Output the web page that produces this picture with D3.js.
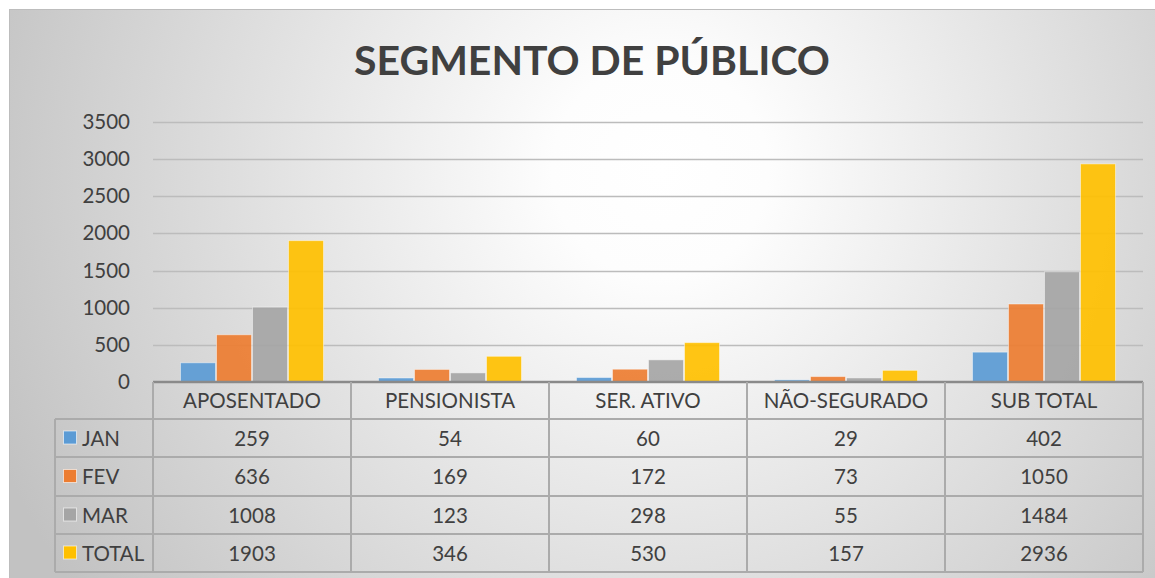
<!DOCTYPE html>
<html>
<head>
<meta charset="utf-8">
<style>
  body { margin: 0; background: #fff; }
  text { font-family: Lato, "Open Sans", sans-serif; fill: #404040; }
</style>
</head>
<body>

<script src="https://cdnjs.cloudflare.com/ajax/libs/d3/7.8.5/d3.min.js"></script>

<script>

const categories = ['APOSENTADO', 'PENSIONISTA', 'SER. ATIVO', 'NÃO-SEGURADO', 'SUB TOTAL'];
const seriesNames = ['JAN', 'FEV', 'MAR', 'TOTAL'];
const jan   = [259, 54, 60, 29, 402];
const fev   = [636, 169, 172, 73, 1050];
const mar   = [1008, 123, 298, 55, 1484];
const total = [1903, 346, 530, 157, 2936];
const yTicks = [0, 500, 1000, 1500, 2000, 2500, 3000, 3500];
const colors = ['#5B9BD5', '#ED7D31', '#A5A5A5', '#FFC000'];

const series = [jan, fev, mar, total];

const width = 1155;
const height = 578;

const svg = d3.select('body')
              .append('svg')
              .attr('width', width)
              .attr('height', height);

// background gradient like the spreadsheet chart area
const defs = svg.append('defs');
const grad = defs.append('radialGradient')
                 .attr('id', 'bg')
                 .attr('gradientUnits', 'userSpaceOnUse')
                 .attr('cx', 660).attr('cy', 170).attr('r', 720);
grad.append('stop').attr('offset', '0').attr('stop-color', '#ffffff');
grad.append('stop').attr('offset', '0.15').attr('stop-color', '#fdfdfd');
grad.append('stop').attr('offset', '1').attr('stop-color', '#c2c2c2');

svg.append('rect')
   .attr('x', 9.5).attr('y', 9.5)
   .attr('width', 1160).attr('height', 580)
   .attr('fill', 'url(#bg)')
   .attr('stroke', '#bdbdbd')
   .attr('stroke-width', 1);

// title
const title = svg.append('text')
   .attr('x', 592)
   .attr('y', 75)
   .attr('text-anchor', 'middle')
   .style('font-weight', 'bold')
   .style('font-size', '42px')
   .text('SEGMENTO DE PÚBLICO');
const tw = title.node().getComputedTextLength();
title.style('font-size', (42 * 476 / tw) + 'px');

// scales
const plotLeft = 153, plotRight = 1143;
const y = d3.scaleLinear().domain([0, 3500]).range([382, 122]);
const x0 = d3.scaleBand().domain(categories).range([plotLeft, plotRight]);
const x1 = d3.scaleBand().domain(seriesNames).range([0, x0.bandwidth()]).paddingOuter(0.75);

// gridlines
svg.append('g')
   .selectAll('line')
   .data(yTicks.filter(d => d > 0))
   .enter()
   .append('line')
     .attr('x1', plotLeft).attr('x2', plotRight)
     .attr('y1', d => Math.round(y(d)) + 0.5)
     .attr('y2', d => Math.round(y(d)) + 0.5)
     .attr('stroke', '#bcbcbc')
     .attr('stroke-width', 1.5);

// y axis labels
const yAxis = svg.append('g')
   .attr('transform', `translate(${plotLeft - 23},0)`)
   .call(d3.axisLeft(y).tickValues(yTicks).tickFormat(d3.format('d')).tickSize(0).tickPadding(0));
yAxis.select('.domain').remove();
yAxis.selectAll('text')
     .attr('fill', '#404040')
     .style('font-family', 'Lato, sans-serif')
     .style('font-size', '20.5px');

// bars
const groups = svg.append('g')
   .selectAll('g')
   .data(categories)
   .enter()
   .append('g')
     .attr('transform', d => `translate(${x0(d)},0)`);

groups.selectAll('rect')
   .data((c, ci) => seriesNames.map((s, si) => ({ s, v: series[si][ci], color: colors[si] })))
   .enter()
   .append('rect')
     .attr('x', d => x1(d.s) + 0.5)
     .attr('y', d => y(d.v))
     .attr('width', x1.bandwidth() - 1)
     .attr('height', d => y(0) - y(d.v))
     .attr('fill', d => d.color)
     .attr('fill-opacity', 0.92)
     .attr('stroke', '#ffffff')
     .attr('stroke-opacity', 0.45)
     .attr('stroke-width', 1);

// data table
const headerTop = 382;
const rowEdges = [382, 419, 457, 496, 534, 572];
const tableLeft = 55;
const lineColor = '#ababab';
const table = svg.append('g');

// horizontal lines
rowEdges.forEach((ry, i) => {
  table.append('line')
       .attr('x1', i === 0 ? plotLeft : tableLeft)
       .attr('x2', plotRight)
       .attr('y1', ry).attr('y2', ry)
       .attr('stroke', i === 0 ? '#8a8a8a' : lineColor)
       .attr('stroke-width', i === 0 ? 2.5 : 2);
});
// vertical lines
const colEdges = categories.map(c => x0(c)).concat([plotRight]);
colEdges.forEach(cx => {
  table.append('line')
       .attr('x1', cx).attr('x2', cx)
       .attr('y1', headerTop).attr('y2', rowEdges[5])
       .attr('stroke', lineColor)
       .attr('stroke-width', 2);
});
table.append('line')
     .attr('x1', tableLeft).attr('x2', tableLeft)
     .attr('y1', rowEdges[1]).attr('y2', rowEdges[5])
     .attr('stroke', lineColor)
     .attr('stroke-width', 2);

// category header
table.selectAll('text.cat')
     .data(categories)
     .enter()
     .append('text')
       .attr('class', 'cat')
       .attr('x', d => x0(d) + x0.bandwidth() / 2)
       .attr('y', (rowEdges[0] + rowEdges[1]) / 2 + 7.5)
       .attr('text-anchor', 'middle')
       .style('font-size', '20.5px')
       .text(d => d);

// series rows
seriesNames.forEach((s, si) => {
  const top = rowEdges[si + 1], bottom = rowEdges[si + 2];
  const mid = (top + bottom) / 2;
  table.append('rect')
       .attr('x', 63.5).attr('y', mid - 7)
       .attr('width', 13).attr('height', 13)
       .attr('fill', colors[si])
       .attr('stroke', '#ffffff')
       .attr('stroke-opacity', 0.6)
       .attr('stroke-width', 1);
  table.append('text')
       .attr('x', 82)
       .attr('y', mid + 7.5)
       .style('font-size', '20.5px')
       .text(s);
  table.selectAll(null)
       .data(categories)
       .enter()
       .append('text')
         .attr('x', d => x0(d) + x0.bandwidth() / 2)
         .attr('y', mid + 7.5)
         .attr('text-anchor', 'middle')
         .style('font-size', '20.5px')
         .text((d, ci) => series[si][ci]);
});

</script>
</body>
</html>
